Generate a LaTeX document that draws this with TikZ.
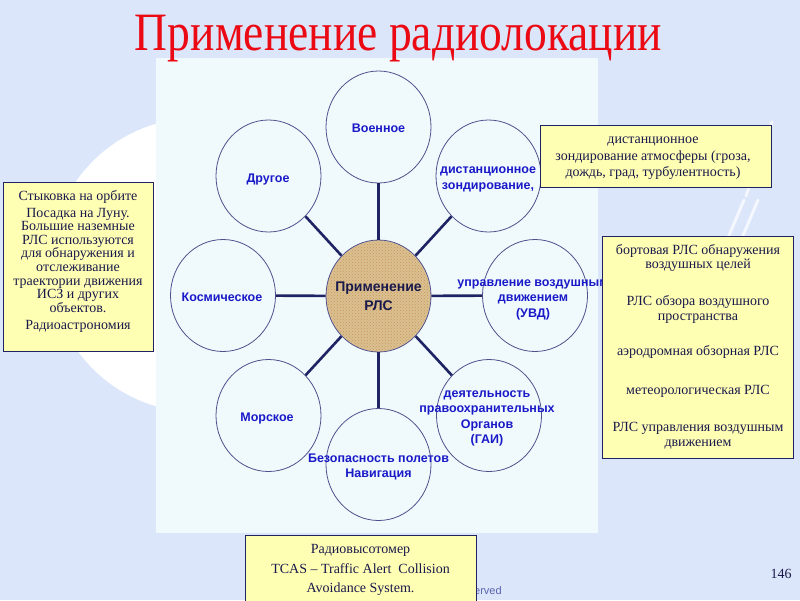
\documentclass[tikz,border=0pt]{standalone}
\usepackage{fontspec}
\usepackage{graphicx}
\setmainfont{Liberation Serif}
\newfontfamily\arialfont{Liberation Sans}
\usetikzlibrary{shapes.geometric,patterns}

\definecolor{bgblue}{RGB}{220,230,250}
\definecolor{panelcol}{RGB}{240,250,252}
\definecolor{navy}{RGB}{30,35,100}
\definecolor{textnavy}{RGB}{25,25,75}
\definecolor{boxyellow}{RGB}{255,255,180}
\definecolor{txtblue}{RGB}{25,25,200}
\definecolor{titlered}{RGB}{235,10,20}
\definecolor{tancol}{RGB}{218,192,145}
\definecolor{speck}{RGB}{200,150,90}
\definecolor{ringcol}{RGB}{80,80,140}
\definecolor{footcol}{RGB}{90,100,170}

\begin{document}
\begin{tikzpicture}[x=1pt,y=-1pt,
  circ/.style={ellipse, draw=ringcol, line width=0.8pt, fill=panelcol, minimum width=105pt, minimum height=112pt, inner sep=0pt},
  ctext/.style={font=\arialfont\bfseries\fontsize{12.5}{15.5}\selectfont, text=txtblue, align=center, inner sep=0pt, anchor=base},
  conn/.style={draw=navy, line width=2.6pt},
  ybox/.style={draw=navy, line width=0.8pt, fill=boxyellow, inner sep=0pt},
  btext/.style={text=textnavy, align=center, inner sep=0pt, anchor=base}
]
% background
\fill[bgblue] (0,0) rectangle (800,600);
\useasboundingbox (0,0) rectangle (800,600);
\fill[white] (197,265) circle (147pt);
\draw[white, opacity=0.7, line width=3pt, line cap=round] (772,122) -- (746,196);
\draw[white, opacity=0.7, line width=3pt, line cap=round] (758,200) -- (736,252);
\draw[white, opacity=0.7, line width=3pt, line cap=round] (744,200) -- (722,252);
% panel
\fill[panelcol] (156,58) rectangle (598,533);

% title
\node[text=titlered, font=\fontsize{54}{54}\selectfont, inner sep=0pt, anchor=base] (title) at (398.5,50) {\resizebox{527pt}{\height}{Применение радиолокации}};

% circles
\node[circ, fill=tancol] (rls) at (378.5,296) {};
\path[pattern=crosshatch dots, pattern color=speck] (378.5,296) ellipse (51pt and 54.5pt);
\node[circ] (voen) at (378.5,127) {};
\node[circ] (drug) at (268.5,176) {};
\node[circ] (dist) at (488.5,176) {};
\node[circ] (kosm) at (223,295.5) {};
\node[circ] (uvd) at (535,295.5) {};
\node[circ] (mor) at (268.5,415.5) {};
\node[circ] (gai) at (489,415.5) {};
\node[circ] (nav) at (378.5,464.5) {};

% connectors
\draw[conn] (rls) -- (voen);
\draw[conn] (rls) -- (drug);
\draw[conn] (rls) -- (dist);
\draw[conn] (rls) -- (kosm);
\draw[conn] (rls) -- (uvd);
\draw[conn] (rls) -- (mor);
\draw[conn] (rls) -- (gai);
\draw[conn] (rls) -- (nav);

% circle texts (anchor base = baseline of last line)
\node[font=\arialfont\bfseries\fontsize{14}{19.5}\selectfont, text=textnavy, align=center, inner sep=0pt, anchor=base] (rlst) at (378.5,310.7) {Применение\\РЛС};
\node[ctext] (voent) at (378.5,132.5) {Военное};
\node[ctext] (drugt) at (268,182) {Другое};
\node[ctext] (distt) at (488,189) {дистанционное\\зондирование,};
\node[ctext] (kosmt) at (222,301) {Космическое};
\node[ctext] (uvdt) at (533,317) {управление воздушным\\движением\\(УВД)};
\node[ctext] (gait) at (487,443.5) {деятельность\\правоохранительных\\Органов\\(ГАИ)};
\node[ctext] (navt) at (378.5,477.8) {Безопасность полетов\\Навигация};
\node[ctext] (mort) at (267,421) {Морское};

% footer text
\node[font=\arialfont\fontsize{11}{11}\selectfont, text=footcol, anchor=base west, inner sep=0pt] (foot) at (474,594) {erved};
\node[font=\fontsize{14}{14}\selectfont, text=textnavy, anchor=base, inner sep=0pt] (pnum) at (781,578) {146};

% yellow boxes
\node[ybox, minimum width=150pt, minimum height=169pt] (lbox) at (78,266.5) {};
\node[btext, font=\fontsize{14}{13.6}\selectfont] (lboxt) at (78,329.2) {Стыковка на орбите\\[3.4pt]Посадка на Луну.\\Большие наземные\\РЛС используются\\для обнаружения и\\отслеживание\\траектории движения\\ИСЗ и других\\объектов.\\[3.4pt]Радиоастрономия};

\node[ybox, minimum width=231pt, minimum height=62pt] (tbox) at (655.5,156) {};
\node[btext, font=\fontsize{14}{16.7}\selectfont] (tboxt) at (653,176.7) {дистанционное\\зондирование атмосферы (гроза,\\дождь, град, турбулентность)};

\node[ybox, minimum width=191pt, minimum height=222pt] (rbox) at (697.5,347) {};
\node[btext, font=\fontsize{14}{14.5}\selectfont] (rboxt) at (698,446) {бортовая РЛС обнаружения\\воздушных целей\\[22.5pt]РЛС обзора воздушного\\пространства\\[21pt]аэродромная обзорная РЛС\\[24.5pt]метеорологическая РЛС\\[22.5pt]РЛС управления воздушным\\движением};

\node[ybox, minimum width=231pt, minimum height=67pt, anchor=north] (bbox) at (360.5,535) {};
\node[btext, font=\fontsize{14}{19.5}\selectfont] (bboxt) at (360.5,592.5) {Радиовысотомер\\TCAS – Traffic Alert\ \ Collision\\Avoidance System.};
\end{tikzpicture}
\end{document}
